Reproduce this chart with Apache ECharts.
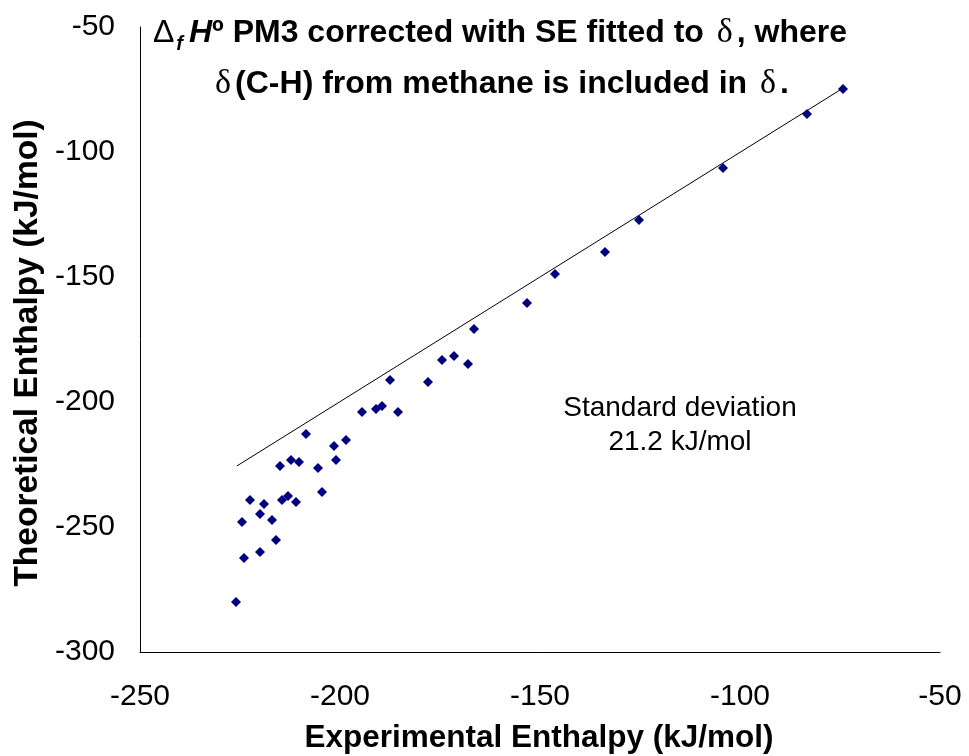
<!DOCTYPE html>
<html>
<head>
<meta charset="utf-8">
<script src="https://cdn.jsdelivr.net/npm/echarts@6/dist/echarts.min.js"></script>
<style>
html,body{margin:0;padding:0;background:#fff;}
#chart{width:969px;height:756px;}
</style>
</head>
<body>
<div id="chart"></div>
<script>
var expX = [-74.25, -83.25, -104.25, -125.25, -133.75, -146.25, -153.25, -166.5, -168, -171.5, -174.5, -178, -187.5, -185.5, -189.5, -191, -194.5, -198.5, -201.5, -201, -208.5, -215, -212.25, -210.25, -205.5, -204.5, -222.5, -219, -214.5, -213, -211, -220, -217, -224.5, -216, -220, -224, -226];
var theoY = [-74.8, -84.8, -106.4, -127.2, -140, -148.8, -160.4, -170.8, -184.8, -181.6, -183.2, -192, -191.2, -204, -201.6, -202.8, -204, -215.2, -217.6, -223.2, -212.8, -225.6, -223.2, -224, -226.4, -236, -239.2, -240.8, -239.2, -237.6, -240, -244.8, -247.2, -248, -255.2, -260, -262.4, -280];
var fitX = [-225.8, -74.3];
var fitY = [-225.6, -74.5];
var xTicks = [-250, -200, -150, -100, -50];
var yTicks = [-300, -250, -200, -150, -100, -50];

var pts = expX.map(function (x, i) { return [x, theoY[i]]; });
var fit = fitX.map(function (x, i) { return [x, fitY[i]]; });

var chart = echarts.init(document.getElementById('chart'));
var FONT = 'Liberation Sans, Arial, sans-serif';
chart.setOption({
  animation: false,
  backgroundColor: '#ffffff',
  grid: { left: 140, right: 29, top: 27, bottom: 104, containLabel: false },
  xAxis: {
    type: 'value', min: xTicks[0], max: xTicks[xTicks.length - 1], interval: 50,
    axisLine: { show: true, onZero: false, lineStyle: { color: '#000', width: 1 } },
    axisTick: { show: false },
    splitLine: { show: false },
    axisLabel: { fontFamily: FONT, fontSize: 30, color: '#000', margin: 30 }
  },
  yAxis: {
    type: 'value', min: yTicks[0], max: yTicks[yTicks.length - 1], interval: 50,
    axisLine: { show: true, onZero: false, lineStyle: { color: '#000', width: 1 } },
    axisTick: { show: false },
    splitLine: { show: false },
    axisLabel: { fontFamily: FONT, fontSize: 30, color: '#000', margin: 25 }
  },
  series: [
    {
      type: 'line', data: fit, symbol: 'none', silent: true,
      lineStyle: { color: '#000', width: 1 }, z: 1
    },
    {
      type: 'scatter', data: pts, symbol: 'diamond', symbolSize: 10,
      itemStyle: { color: '#000080', opacity: 1 }, z: 2
    }
  ],
  graphic: [
    {
      type: 'text', x: 500, y: 59,
      style: {
        text: '{d|Δ}{sub|f}{hi|H}{b|º PM3 corrected with SE fitted to }{g|δ}{b|, where}\n{g|δ}{b|(C-H) from methane is included in }{g|δ}{b|.}',
        align: 'center', verticalAlign: 'middle',
        rich: {
          b: { fontFamily: FONT, fontSize: 32, fontWeight: 'bold', fill: '#000', lineHeight: 51 },
          d: { fontFamily: FONT, fontSize: 32, fontWeight: 'normal', fill: '#000', lineHeight: 51 },
          sub: { fontFamily: FONT, fontSize: 20, fontWeight: 'bold', fontStyle: 'italic', fill: '#000', lineHeight: 51, padding: [22, 6, 0, 2] },
          hi: { fontFamily: FONT, fontSize: 32, fontWeight: 'bold', fontStyle: 'italic', fill: '#000', lineHeight: 51 },
          g: { fontFamily: 'Liberation Serif, DejaVu Serif, serif', fontSize: 34, fontWeight: 'normal', fill: '#000', lineHeight: 51, padding: [0, 4, 0, 4] }
        }
      }
    },
    {
      type: 'text', x: 680, y: 425,
      style: {
        text: 'Standard deviation\n21.2 kJ/mol',
        align: 'center', verticalAlign: 'middle',
        fontFamily: FONT, fontSize: 28, fill: '#000', lineHeight: 34
      }
    },
    {
      type: 'text', x: 539, y: 738,
      style: {
        text: 'Experimental Enthalpy (kJ/mol)',
        align: 'center', verticalAlign: 'middle',
        fontFamily: FONT, fontSize: 31.5, fontWeight: 'bold', fill: '#000'
      }
    },
    {
      type: 'text', x: 28, y: 353, rotation: Math.PI / 2,
      style: {
        text: 'Theoretical Enthalpy (kJ/mol)',
        align: 'center', verticalAlign: 'middle',
        fontFamily: FONT, fontSize: 33.5, fontWeight: 'bold', fill: '#000'
      }
    }
  ]
});
</script>
</body>
</html>
